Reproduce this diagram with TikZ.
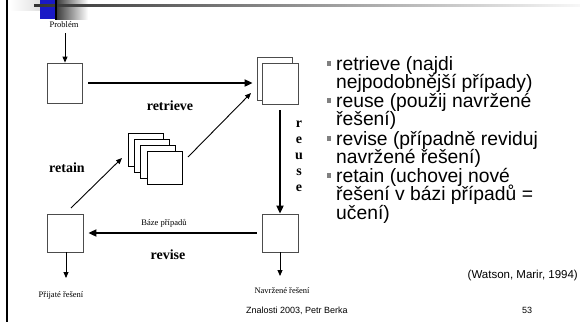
\documentclass[tikz,border=0pt]{standalone}
\usepackage{fontspec}
\setmainfont{Liberation Serif}
\setsansfont{Liberation Sans}
\usetikzlibrary{arrows.meta}
\begin{document}
\begin{tikzpicture}[x=1pt,y=-1pt,
  box/.style={draw=black!70,line width=0.8pt,fill=white,minimum width=35pt,minimum height=40pt,inner sep=0pt},
  stackbox/.style={draw=black,line width=0.7pt,fill=white,minimum width=35pt,minimum height=33pt,inner sep=0pt},
  thick arrow/.style={line width=1.8pt,-{Triangle[length=8pt,width=7pt]}},
  thin arrow/.style={line width=0.9pt,-{Triangle[length=6pt,width=5pt]}},
  small label/.style={font=\fontsize{8.5}{9}\selectfont,inner sep=0pt},
  big label/.style={font=\fontsize{14}{16}\selectfont\bfseries,inner sep=0pt},
  item/.style={font=\sffamily\fontsize{19.3}{20}\selectfont,anchor=base west,inner sep=0pt},
  bullet/.style={fill=black!50,minimum size=4.5pt,inner sep=0pt}]
\useasboundingbox (0,0) rectangle (580,322);
% header decoration
\shade[left color=white,right color=black!12] (10,0) rectangle (40,10);
\fill[blue!75!black!90!white] (40,0) rectangle (55,19);
\shade[left color=black!80,right color=white] (55,0) rectangle (88,19);
\shade[left color=black!80,right color=black!3] (34,4) rectangle (580,6.5);
\draw[line width=1.5pt] (56,0) -- (56,20);
\draw[line width=2pt] (6.8,0) -- (6.8,322);
% diagram
\node[small label] (prob) at (64,25) {Problém};
\node[box] (b1) at (64.5,83) {};
\node[box,minimum width=35pt,minimum height=43pt] (trback) at (274.5,78.5) {};
\node[box,minimum width=36pt,minimum height=41pt] (tr) at (280,83.5) {};
\node[stackbox] (s1) at (145.5,149.5) {};
\node[stackbox] (s2) at (151.5,155.5) {};
\node[stackbox] (s3) at (157.5,161.5) {};
\node[stackbox] (s4) at (164.5,167.5) {};
\node[box,minimum width=36pt,minimum height=38pt] (bl) at (65,233) {};
\node[box,minimum width=36pt,minimum height=38pt] (br) at (280,233) {};
\node[small label] (base) at (164,223) {Báze případů};
\node[small label] (acc) at (61,295) {Přijaté řešení};
\node[small label] (prop) at (282,291) {Navržené řešení};
\coordinate (pa) at (65,33);
\coordinate (sa) at (188,157);
\coordinate (sb) at (251,93);
\coordinate (ra) at (71,208);
\coordinate (rb) at (122,158);
\coordinate (accend) at (66,278);
\coordinate (propend) at (280,276);
\node[big label] (lretrieve) at (170,106) {retrieve};
\node[big label] (lretain) at (67,168) {retain};
\node[big label] (lrevise) at (168,255) {revise};
\node[big label,align=center] (lreuse) at (299,156) {r\\e\\u\\s\\e};
\draw[thin arrow] (pa) -- (b1.north -| pa);
\draw[thick arrow,shorten >=4pt,shorten <=6pt] (b1.east) -- (b1.east -| trback.west);
\draw[thin arrow] (sa) -- (sb);
\draw[thick arrow,shorten <=6pt] (tr.south) -- (br.north);
\draw[thick arrow,shorten <=5pt,shorten >=5pt] (br.west) -- (bl.east);
\draw[thin arrow] (ra) -- (rb);
\draw[thin arrow] (bl.south -| accend) -- (accend);
\draw[thin arrow] (br.south) -- (propend);
% text
\node[bullet] (bu1) at (329,63.5) {};
\node[item] (t1a) at (336,70) {retrieve (najdi};
\node[item] (t1b) at (336,88.5) {nejpodobnější případy)};
\node[bullet] (bu2) at (329,100.5) {};
\node[item] (t2a) at (336,107) {reuse (použij navržené};
\node[item] (t2b) at (336,125.5) {řešení)};
\node[bullet] (bu3) at (329,138.5) {};
\node[item] (t3a) at (336,145) {revise (případně reviduj};
\node[item] (t3b) at (336,163.5) {navržené řešení)};
\node[bullet] (bu4) at (329,175.5) {};
\node[item] (t4a) at (336,182) {retain (uchovej nové};
\node[item] (t4b) at (336,200.5) {řešení v bázi případů =};
\node[item] (t4c) at (336,219) {učení)};
\node[font=\sffamily\fontsize{11.5}{12}\selectfont,anchor=base east,inner sep=0pt] (watson) at (578,278) {(Watson, Marir, 1994)};
\node[font=\sffamily\fontsize{9}{10}\selectfont,anchor=base west,inner sep=0pt] (foot) at (246,313) {Znalosti 2003, Petr Berka};
\node[font=\sffamily\fontsize{9}{10}\selectfont,anchor=base west,inner sep=0pt] (page) at (522,313) {53};
\end{tikzpicture}
\end{document}
